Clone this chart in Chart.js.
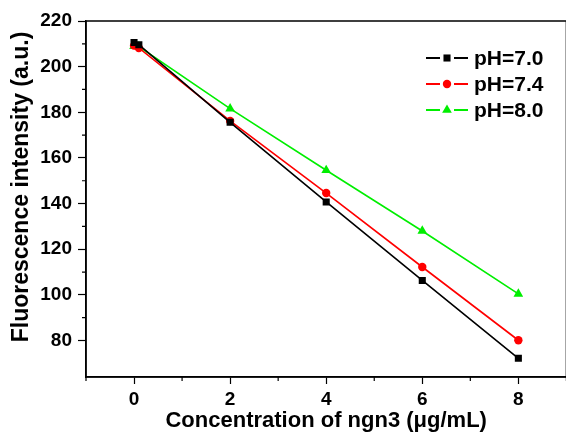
<!DOCTYPE html>
<html>
<head>
<meta charset="utf-8">
<script src="https://cdn.jsdelivr.net/npm/chart.js@4/dist/chart.umd.min.js"></script>
<style>
  html, body { margin: 0; padding: 0; background: #fff; overflow: hidden; }
  #wrap { width: 572px; height: 435px; position: relative; }
</style>
</head>
<body>
<div id="wrap"><canvas id="chart"></canvas></div>
<script>
const concentration = [0, 0.1, 2, 4, 6, 8];
const ph70 = [210.6, 209.6, 175.6, 140.7, 106.3, 72.2];
const ph74 = [209.2, 208.2, 176.2, 144.6, 112.2, 80.1];
const ph80 = [209.0, 208.8, 181.6, 154.6, 128.0, 100.4];
const seriesLabels = ['pH=7.0', 'pH=7.4', 'pH=8.0'];
const xTickLabels = [0, 2, 4, 6, 8];
const yTickLabels = [80, 100, 120, 140, 160, 180, 200, 220];

const FONT = 'Arial, "Liberation Sans", sans-serif';

function toPoints(values) {
    return concentration.map((c, i) => ({ x: c, y: values[i] }));
}

function makeSet(label, values, color, style, radius) {
    return {
        label: label,
        data: toPoints(values),
        borderColor: color,
        backgroundColor: color,
        borderWidth: 1.6,
        pointStyle: style,
        pointRadius: radius,
        pointBorderWidth: 0,
        tension: 0
    };
}

// box around plot area, minor ticks, y title and legend
const decor = {
    id: 'decor',
    afterDraw(chart) {
        const ctx = chart.ctx;
        const area = chart.chartArea;
        const xs = chart.scales.x;
        const ys = chart.scales.y;
        ctx.save();
        ctx.strokeStyle = '#000';
        ctx.lineWidth = 1.5;
        ctx.strokeRect(area.left, area.top, area.right - area.left, area.bottom - area.top);

        // minor ticks
        ctx.lineWidth = 1.2;
        ctx.beginPath();
        xs.ticks.forEach(t => {
            if (Number.isInteger(t.value) && t.value % 2 !== 0) {
                const px = xs.getPixelForValue(t.value);
                ctx.moveTo(px, area.bottom);
                ctx.lineTo(px, area.bottom + 4);
            }
        });
        ys.ticks.forEach(t => {
            if (t.value % 10 === 0 && t.value % 20 !== 0) {
                const py = ys.getPixelForValue(t.value);
                ctx.moveTo(area.left, py);
                ctx.lineTo(area.left - 4, py);
            }
        });
        ctx.stroke();

        // y axis title
        ctx.fillStyle = '#000';
        ctx.font = 'bold 23px ' + FONT;
        ctx.textAlign = 'center';
        ctx.textBaseline = 'middle';
        ctx.translate(22, 187);
        ctx.rotate(-Math.PI / 2);
        ctx.fillText('Fluorescence intensity (a.u.)', 0, 0);
        ctx.restore();

        // legend
        ctx.save();
        ctx.font = 'bold 21px ' + FONT;
        ctx.textAlign = 'left';
        ctx.textBaseline = 'middle';
        chart.data.datasets.forEach((ds, i) => {
            const y = 58 + i * 26;
            ctx.strokeStyle = ds.borderColor;
            ctx.lineWidth = 1.8;
            ctx.beginPath();
            ctx.moveTo(426, y);
            ctx.lineTo(440, y);
            ctx.moveTo(454, y);
            ctx.lineTo(468, y);
            ctx.stroke();
            ctx.fillStyle = ds.backgroundColor;
            Chart.helpers.drawPoint(ctx, {
                pointStyle: ds.pointStyle,
                radius: ds.pointRadius,
                rotation: 0,
                borderWidth: 0
            }, 447, y);
            ctx.fillStyle = '#000';
            ctx.fillText(ds.label, 474, y + 1);
        });
        ctx.restore();
    }
};

const tickColor = major => c => major(c.tick.value) ? '#000' : 'rgba(0,0,0,0)';

new Chart(document.getElementById('chart'), {
    type: 'line',
    data: {
        datasets: [
            makeSet(seriesLabels[0], ph70, '#000000', 'rect', 5),
            makeSet(seriesLabels[1], ph74, '#ff0000', 'circle', 4.2),
            makeSet(seriesLabels[2], ph80, '#00ee00', 'triangle', 5.6)
        ]
    },
    options: {
        responsive: true,
        maintainAspectRatio: false,
        animation: false,
        layout: { padding: { top: 21, right: 2, bottom: 0, left: 0 } },
        plugins: {
            legend: { display: false },
            tooltip: { enabled: false }
        },
        scales: {
            x: {
                type: 'linear',
                min: -1,
                max: 9,
                afterFit: s => { s.height = 58; },
                border: { display: true, color: '#000', width: 1.5 },
                grid: {
                    drawOnChartArea: false,
                    drawTicks: true,
                    tickLength: 7,
                    tickWidth: 1.2,
                    tickColor: tickColor(v => xTickLabels.includes(v))
                },
                ticks: {
                    stepSize: 1,
                    autoSkip: false,
                    maxRotation: 0,
                    padding: 4,
                    color: '#000',
                    font: { family: FONT, size: 19, weight: 'bold' },
                    callback: v => xTickLabels.includes(v) ? String(v) : ''
                },
                title: {
                    display: true,
                    text: 'Concentration of ngn3 (\u03bcg/mL)',
                    color: '#000',
                    font: { family: FONT, size: 22, weight: 'bold' },
                    padding: { top: 0, bottom: 1 }
                }
            },
            y: {
                min: 64,
                max: 220,
                afterFit: s => { s.width = 86; },
                border: { display: true, color: '#000', width: 1.5 },
                grid: {
                    drawOnChartArea: false,
                    drawTicks: true,
                    tickLength: 8,
                    tickWidth: 1.2,
                    tickColor: tickColor(v => yTickLabels.includes(v))
                },
                ticks: {
                    stepSize: 10,
                    autoSkip: false,
                    padding: 6,
                    color: '#000',
                    font: { family: FONT, size: 19, weight: 'bold' },
                    callback: v => yTickLabels.includes(v) ? String(v) : ''
                }
            }
        }
    },
    plugins: [decor]
});
</script>
</body>
</html>
